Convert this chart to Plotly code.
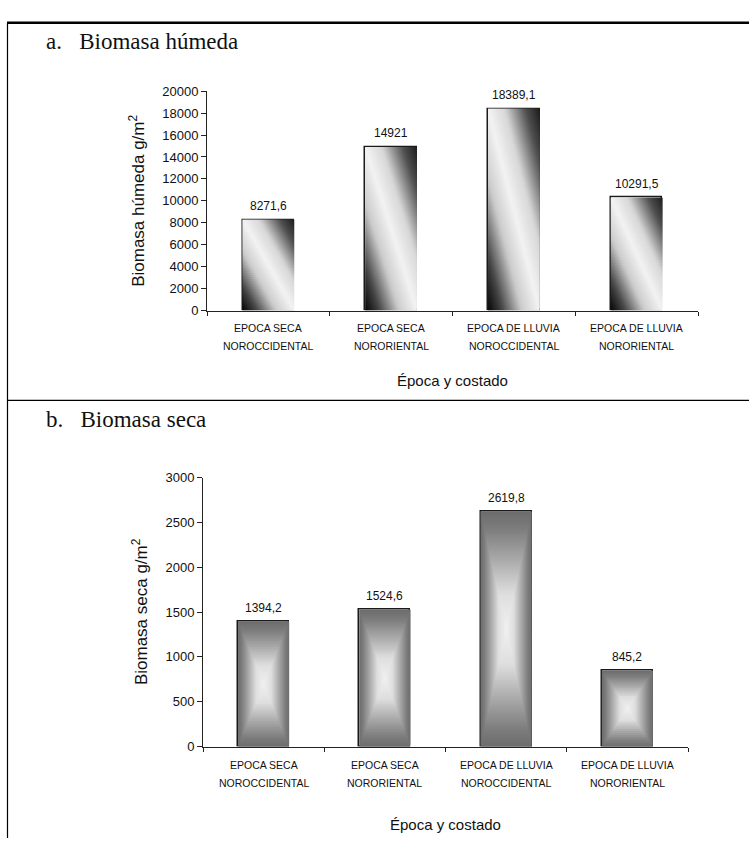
import plotly.graph_objects as go

# --- data -------------------------------------------------------------
categorias_l1 = ["EPOCA SECA", "EPOCA SECA", "EPOCA DE LLUVIA", "EPOCA DE LLUVIA"]
categorias_l2 = ["NOROCCIDENTAL", "NORORIENTAL", "NOROCCIDENTAL", "NORORIENTAL"]
biomasa_humeda = [8271.6, 14921, 18389.1, 10291.5]
biomasa_seca = [1394.2, 1524.6, 2619.8, 845.2]

titulo_a = "a.&nbsp;&nbsp;&nbsp;Biomasa húmeda"
titulo_b = "b.&nbsp;&nbsp;&nbsp;Biomasa seca"
eje_y_a = "Biomasa húmeda g/m<sup>2</sup>"
eje_y_b = "Biomasa seca g/m<sup>2</sup>"
eje_x = "Época y costado"

W, H = 749, 846
BAR_W = 0.42

SANS = "Liberation Sans, Arial, sans-serif"
SERIF = "Liberation Serif, Times New Roman, serif"

# panel geometry in pixels
A = dict(x0=207, x1=698, y_top=85.7, y_bot=309, ymax=20000)
B = dict(x0=203, x1=688, y_top=479, y_bot=753, ymax=3000)


def px_x(p):
    return p / W


def px_y(p):
    return 1 - p / H


def lerp_gray(stops, d):
    for (d0, g0), (d1, g1) in zip(stops, stops[1:]):
        if d <= d1:
            f = 0 if d1 == d0 else (d - d0) / (d1 - d0)
            g = round(g0 + (g1 - g0) * f)
            return f"rgb({g},{g},{g})"
    g = stops[-1][1]
    return f"rgb({g},{g},{g})"


# diagonal two-tone shading (dark bottom-left and top-right corners)
DIAG = [(0.0, 5), (0.14, 70), (0.33, 205), (0.5, 242), (0.66, 215), (0.86, 80), (1.0, 28)]
DIAG_CS = [[s, lerp_gray(DIAG, s)] for s in [i / 40 for i in range(41)]]

# rectangular "from centre" shading
RECT = [(0.0, 240), (0.3, 222), (0.6, 168), (0.85, 125), (1.0, 108)]


def rect_colorscale(dy):
    ps = sorted(set([i / 40 for i in range(41)] + [0.5 - dy / 2, 0.5 + dy / 2]))
    return [[p, lerp_gray(RECT, max(abs(2 * p - 1), dy))] for p in ps]


fig = go.Figure()


def add_panel(values, geom, xa, ya, style):
    px_per_unit = (geom["y_bot"] - geom["y_top"]) / geom["ymax"]
    for i, v in enumerate(values):
        x0, x1 = i - BAR_W / 2, i + BAR_W / 2
        n = max(24, round(v * px_per_unit / 2))
        for k in range(n):
            t0, t1 = k / n, (k + 1) / n
            y0 = v * t0
            y1 = v * min(1.0, t1 + 1.0 / n)
            tm = (t0 + t1) / 2
            if style == "diag":
                grad = dict(type="horizontal", colorscale=DIAG_CS,
                            start=x0 - tm * BAR_W, stop=x0 + (2 - tm) * BAR_W)
            else:
                grad = dict(type="horizontal", colorscale=rect_colorscale(abs(2 * tm - 1)),
                            start=x0, stop=x1)
            fig.add_trace(go.Scatter(
                x=[x0, x1, x1, x0, x0], y=[y0, y0, y1, y1, y0],
                mode="lines", line=dict(width=0), fill="toself",
                fillgradient=grad, hoverinfo="skip", showlegend=False,
                xaxis=xa, yaxis=ya))
    # outlines of the bars
    fig.add_trace(go.Bar(
        x=list(range(len(values))), y=values, width=BAR_W,
        marker=dict(color="rgba(0,0,0,0)", line=dict(color="#1a1a1a", width=1.5)),
        hoverinfo="skip", showlegend=False, xaxis=xa, yaxis=ya))
    # value labels above bars
    for i, v in enumerate(values):
        txt = f"{v:g}".replace(".", ",")
        fig.add_annotation(x=i, y=v, xref=xa, yref=ya, text=txt, showarrow=False,
                           yshift=14, yanchor="middle",
                           font=dict(family=SANS, size=12, color="#111"))


add_panel(biomasa_humeda, A, "x", "y", "diag")
add_panel(biomasa_seca, B, "x2", "y2", "rect")

common_x = dict(range=[-0.5, 3.5], showgrid=False, zeroline=False, showline=True,
                linecolor="#222", linewidth=1, tickmode="array", tickvals=[],
                ticks="", fixedrange=True,
                minor=dict(tickmode="array", tickvals=[-0.5, 0.5, 1.5, 2.5, 3.5],
                           ticks="outside", ticklen=4, tickcolor="#222", tickwidth=1))
common_y = dict(showgrid=False, zeroline=False, showline=True, linecolor="#222",
                linewidth=1, ticks="outside", ticklen=5, tickcolor="#222",
                tickformat="d",
                tickfont=dict(family=SANS, size=13, color="#111"), fixedrange=True)

fig.update_layout(
    width=W, height=H, margin=dict(l=0, r=0, t=0, b=0),
    paper_bgcolor="white", plot_bgcolor="rgba(0,0,0,0)",
    xaxis=dict(domain=[px_x(A["x0"]), px_x(A["x1"])], anchor="y", **common_x),
    yaxis=dict(domain=[px_y(A["y_bot"]), px_y(A["y_top"])], anchor="x",
               range=[0, A["ymax"]], tickvals=list(range(0, 20001, 2000)), **common_y),
    xaxis2=dict(domain=[px_x(B["x0"]), px_x(B["x1"])], anchor="y2", **common_x),
    yaxis2=dict(domain=[px_y(B["y_bot"]), px_y(B["y_top"])], anchor="x2",
                range=[0, B["ymax"]], tickvals=list(range(0, 3001, 500)), **common_y),
    bargap=0,
)

# category labels, axis titles
for xa, g, lab_y, xt_y, yt_x, ytitle in [
        ("x", A, (327, 345), 380, 137, eje_y_a),
        ("x2", B, (772, 790), 832, 140, eje_y_b)]:
    for i in range(len(categorias_l1)):
        for line, yy in zip((categorias_l1[i], categorias_l2[i]), lab_y):
            fig.add_annotation(x=i, xref=xa, y=px_y(yy), yref="paper", text=line,
                               showarrow=False, yanchor="middle",
                               font=dict(family=SANS, size=10.5, color="#111"))
    fig.add_annotation(x=px_x((g["x0"] + g["x1"]) / 2), y=px_y(xt_y), xref="paper",
                       yref="paper", text=eje_x, showarrow=False, yanchor="middle",
                       font=dict(family=SANS, size=15, color="#111"))
    fig.add_annotation(x=px_x(yt_x), y=px_y((g["y_top"] + g["y_bot"]) / 2),
                       xref="paper", yref="paper", text=ytitle, textangle=-90,
                       showarrow=False, xanchor="center", yanchor="middle",
                       font=dict(family=SANS, size=17, color="#111"))

# panel headings
for txt, yy in [(titulo_a, 35), (titulo_b, 420)]:
    fig.add_annotation(x=px_x(44), y=px_y(yy), xref="paper", yref="paper", text=txt,
                       showarrow=False, xanchor="left", yanchor="middle",
                       font=dict(family=SERIF, size=23, color="#111"))

# frame lines
fig.add_shape(type="line", xref="paper", yref="paper", x0=px_x(7), x1=1,
              y0=px_y(16), y1=px_y(16), line=dict(color="black", width=2.5))
fig.add_shape(type="line", xref="paper", yref="paper", x0=px_x(7.5), x1=px_x(7.5),
              y0=px_y(16), y1=0, line=dict(color="black", width=1.2))
fig.add_shape(type="line", xref="paper", yref="paper", x0=px_x(7), x1=1,
              y0=px_y(400.5), y1=px_y(400.5), line=dict(color="black", width=1.2))

fig.write_html("out.html")
